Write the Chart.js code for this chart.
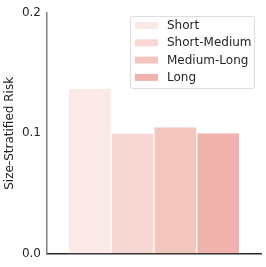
<!DOCTYPE html>
<html>
<head>
<meta charset="utf-8">
<script src="https://cdn.jsdelivr.net/npm/chart.js@4/dist/chart.umd.min.js"></script>
<style>
  html,body{margin:0;padding:0;background:#fff;}
  #wrap{width:266px;height:267px;position:relative;}
</style>
</head>
<body>
<div id="wrap"><canvas id="risk"></canvas></div>
<script>
  var groupLabels = ['Short','Short-Medium','Medium-Long','Long'];
  var riskValues  = [0.137, 0.0998, 0.105, 0.1];
  var barColors   = ['#fae9e6','#f7d7d3','#f3c5bf','#f0b2ac'];
  var yTicks      = [0, 0.1, 0.2];

  // legend drawn inside the plot, top right, matplotlib style
  var boxLegend = {
    id:'boxLegend',
    afterDraw:function(chart){
      var c = chart.ctx, ds = chart.data.datasets;
      var x0 = 130, y0 = 16, w = 124, h = 72;
      c.save();
      c.fillStyle = 'rgba(255,255,255,0.8)';
      c.strokeStyle = '#dddddd';
      c.lineWidth = 1;
      c.beginPath();
      c.roundRect(x0+0.5, y0+0.5, w, h, 2);
      c.fill(); c.stroke();
      c.font = '12px "DejaVu Sans"';
      c.textBaseline = 'middle';
      for(var i=0;i<ds.length;i++){
        var cy = y0 + 9.5 + i*17.3;
        c.fillStyle = ds[i].backgroundColor;
        c.fillRect(x0+5, cy-3.5, 23, 7);
        c.fillStyle = '#262626';
        c.fillText(ds[i].label, x0+37, cy+0.5);
      }
      c.restore();
    }
  };

  new Chart(document.getElementById('risk'),{
    type:'bar',
    data:{
      labels:[''],
      datasets: groupLabels.map(function(l,i){
        return {label:l, data:[riskValues[i]], backgroundColor:barColors[i],
                borderColor:'#ffffff', borderWidth:{left:0.6,right:0.6,top:0,bottom:0}, borderSkipped:false};
      })
    },
    options:{
      responsive:true,
      maintainAspectRatio:false,
      animation:false,
      layout:{padding:{left:3,right:5,top:12,bottom:0}},
      datasets:{bar:{categoryPercentage:0.8, barPercentage:1}},
      plugins:{legend:{display:false},tooltip:{enabled:false}},
      scales:{
        x:{
          grid:{display:false},
          ticks:{display:false},
          border:{color:'#262626',width:1.5},
          afterFit:function(s){ s.height = 13.5; }
        },
        y:{
          min:0, max:0.2,
          afterBuildTicks:function(s){ s.ticks = yTicks.map(function(v){return {value:v};}); },
          grid:{display:false, drawTicks:false},
          border:{color:'#808080',width:1.5},
          ticks:{color:'#262626',font:{family:'DejaVu Sans',size:12},padding:6,
                 callback:function(v){ return v.toFixed(1); }},
          title:{display:true,text:'Size-Stratified Risk',color:'#262626',
                 font:{family:'DejaVu Sans',size:12},padding:{top:0,bottom:3}},
          afterFit:function(s){ s.width = 44; }
        }
      }
    },
    plugins:[boxLegend]
  });
</script>
</body>
</html>
